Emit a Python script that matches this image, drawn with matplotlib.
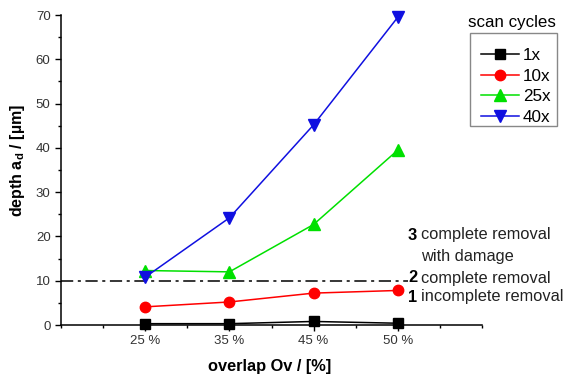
import matplotlib
matplotlib.use("Agg")
import matplotlib.pyplot as plt
import matplotlib.patches as mpatches
from matplotlib.ticker import MultipleLocator

plt.rcParams['font.family'] = ['Liberation Sans', 'DejaVu Sans']
plt.rcParams['mathtext.default'] = 'regular'

# data
overlap = ["25 %", "35 %", "45 %", "50 %"]
depth_1x = [0.3, 0.3, 0.8, 0.4]
depth_10x = [4.1, 5.2, 7.2, 7.8]
depth_25x = [12.3, 12.0, 22.7, 39.5]
depth_40x = [10.8, 24.2, 45.2, 69.5]
threshold = 10

W, H = 565, 379
fig = plt.figure(figsize=(W / 100, H / 100), dpi=100)
ax = fig.add_axes([61 / W, 1 - 325 / H, (482 - 61) / W, (325 - 15) / H])

xpos = list(range(1, len(overlap) + 1))
series = [
    (depth_1x, "1x", "black", "s", 6.5),
    (depth_10x, "10x", "#ff0000", "o", 7.5),
    (depth_25x, "25x", "#00e000", "^", 8.5),
    (depth_40x, "40x", "#1010e0", "v", 8.5),
]
handles = []
for vals, lab, col, mk, ms in series:
    h, = ax.plot(xpos, vals, color=col, marker=mk, markersize=ms, lw=1.1,
                 label=lab, clip_on=False, zorder=3)
    handles.append(h)

# threshold line between "incomplete" and "complete" removal
ax.hlines(threshold, 0, 4.12, colors="black", lw=1.1, linestyles=(0, (8, 3, 2, 3)),
          zorder=2, clip_on=False)

ax.set_xlim(0, 5)
ax.set_ylim(0, 70)
ax.set_xticks(xpos)
ax.set_xticklabels(overlap)
ax.xaxis.set_minor_locator(MultipleLocator(0.5))
ax.yaxis.set_major_locator(MultipleLocator(10))
ax.yaxis.set_minor_locator(MultipleLocator(5))
ax.spines['top'].set_visible(False)
ax.spines['right'].set_visible(False)
for s in ['left', 'bottom']:
    ax.spines[s].set_linewidth(1.1)
ax.tick_params(which='major', direction='out', length=4, width=1, labelsize=9.5,
               colors='black', labelcolor='#333333')
ax.tick_params(which='minor', direction='out', length=2.5, width=1)

fig.text(18 / W, 1 - 161 / H, r"depth a$_d$ / [µm]", rotation=90, fontsize=11.5,
         fontweight='bold', ha='center', va='center')
fig.text(270 / W, 1 - 367 / H, "overlap Ov / [%]", fontsize=11.8, fontweight='bold',
         ha='center', va='center')

# region annotations
notes = [("3", "complete removal", 235), ("", "with damage", 256),
         ("2", "complete removal", 278), ("1", "incomplete removal", 297)]
for num, txt, yy in notes:
    if num:
        fig.text(408 / W, 1 - yy / H, num, fontsize=11.8, fontweight='bold',
                 ha='left', va='center')
    fig.text(421 / W, 1 - yy / H, txt, fontsize=11.8, ha='left', va='center',
             color='#222222')

# legend: title above a plain box, as in the original
fig.text(512 / W, 1 - 23 / H, "scan cycles", fontsize=12.2, ha='center', va='center')
fig.patches.append(mpatches.Rectangle((470 / W, 1 - 126 / H), 87 / W, 93 / H,
                                      transform=fig.transFigure, fill=False,
                                      edgecolor='#888888', lw=1.0))
leg = fig.legend(handles=handles, loc='upper left',
                 bbox_to_anchor=(481 / W, 1 - 48 / H), fontsize=12.3, frameon=False,
                 handlelength=2.2, handletextpad=0.25, labelspacing=0.33,
                 borderpad=0, borderaxespad=0)

fig.savefig("out.png", dpi=100)
